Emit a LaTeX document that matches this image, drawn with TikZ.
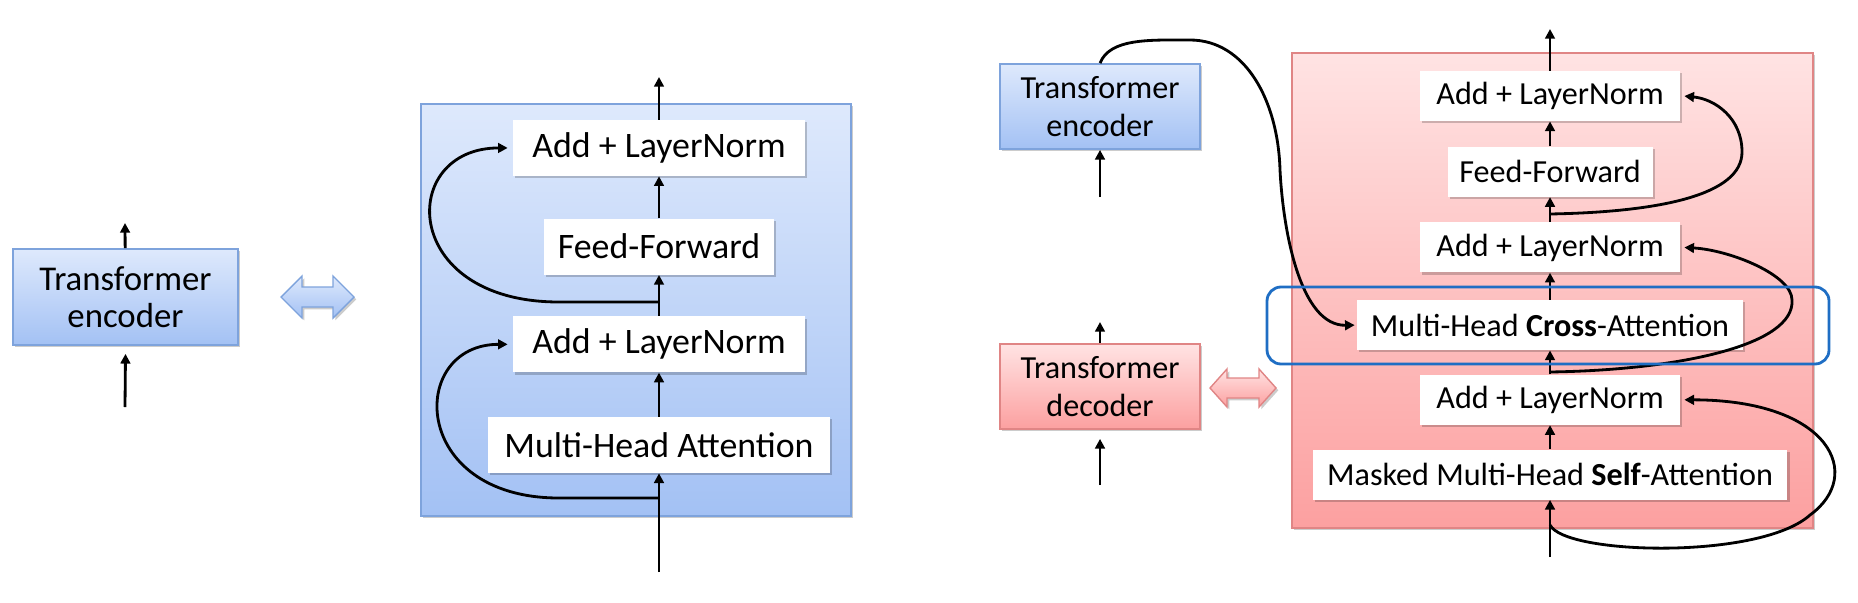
\documentclass[tikz,border=0pt]{standalone}
\usepackage{fontspec}
\setmainfont{Carlito}
\usetikzlibrary{positioning,arrows.meta,shadows}
\definecolor{encTop}{HTML}{DEE9FC}
\definecolor{encBottom}{HTML}{A3C1F4}
\definecolor{encLine}{HTML}{7EA3DC}
\definecolor{decTop}{HTML}{FFE3E3}
\definecolor{decBottom}{HTML}{FCA0A0}
\definecolor{decLine}{HTML}{E08585}
\definecolor{crossBlue}{HTML}{1F6EC4}
\tikzset{
    softshadow/.style={drop shadow={shadow xshift=1.3pt,shadow yshift=-1.3pt,opacity=0.2,fill=black}},
    encfill/.style={draw=encLine,top color=encTop,bottom color=encBottom,line width=1pt},
    decfill/.style={draw=decLine,top color=decTop,bottom color=decBottom,line width=1pt},
    bigblock/.style={inner sep=0pt,softshadow},
    smallblock/.style={align=center,inner sep=0pt,minimum width=4.0cm,minimum height=1.7cm,
        font=\fontsize{18.3}{22}\selectfont,softshadow},
    layer/.style={fill=white,inner sep=0pt,minimum height=1.12cm,
        font=\fontsize{20.4}{22}\selectfont,softshadow},
    sublayer/.style={fill=white,inner sep=0pt,minimum height=1.0cm,
        font=\fontsize{18.3}{20}\selectfont,softshadow},
    arrow/.style={-{Triangle[length=5.5pt,width=5.5pt]},line width=1.6pt},
    highlight/.style={draw=crossBlue,line width=1.6pt,rounded corners=0.28cm}
}
\begin{document}
\begin{tikzpicture}[x=0.02cm,y=-0.02cm]
    \useasboundingbox (0,0) rectangle (1858,602);
    % encoder as one block
    \node[smallblock,encfill,minimum width=4.5cm,minimum height=1.92cm,font=\fontsize{19.8}{20.8}\selectfont] (encleft) at (125.5,297) {Transformer\\encoder};
    \coordinate (encleftin) at (125,407);
    \coordinate (encleftout) at (125,223);
    \draw[arrow] (encleftin) -- ([yshift=-0.16cm]encleft.south);
    \draw[arrow] (encleft) -- (encleftout);
    \path[encfill,line width=0.8pt,softshadow] (281,297) -- (302,276) -- (302,287) -- (333,287) -- (333,276) -- (354,297)
        -- (333,318) -- (333,307) -- (302,307) -- (302,318) -- cycle;

    % encoder layer
    \node[bigblock,encfill,minimum width=8.6cm,minimum height=8.24cm] (encblock) at (636,310) {};
    \node[layer,minimum width=6.84cm] (mha) at (659,445) {Multi-Head Attention};
    \node[layer,minimum width=5.84cm,above=0.88cm of mha] (encnorm1) {Add + LayerNorm};
    \node[layer,minimum width=4.6cm,above=0.82cm of encnorm1] (encff) {Feed-Forward};
    \node[layer,minimum width=5.84cm,above=0.84cm of encff] (encnorm2) {Add + LayerNorm};
    \coordinate (encin) at (659,572);
    \coordinate (encout) at (659,77);
    \coordinate (encres1) at (659,498);
    \coordinate (encres2) at (659,302);
    \draw[arrow] (encin) -- (mha);
    \draw[arrow] (mha) -- (encnorm1);
    \draw[arrow] (encnorm1) -- (encff);
    \draw[arrow] (encff) -- (encnorm2);
    \draw[arrow] (encnorm2) -- (encout);
    \draw[arrow] (encres1) -- ++(-100,0) .. controls +(-150,0) and +(-100,0) .. ([xshift=-0.1cm]encnorm1.west);
    \draw[arrow] (encres2) -- ++(-100,0) .. controls +(-160,0) and +(-110,0) .. ([xshift=-0.1cm]encnorm2.west);

    % encoder and decoder blocks
    \node[smallblock,encfill] (encsmall) at (1100,106.5) {Transformer\\encoder};
    \node[smallblock,decfill] (decsmall) at (1100,386.5) {Transformer\\decoder};
    \coordinate (encsmallin) at (1100,197);
    \coordinate (decsmallin) at (1100,485);
    \coordinate (decsmallout) at (1100,322);
    \draw[arrow] (encsmallin) -- (encsmall);
    \draw[arrow] (decsmallin) -- ([yshift=-0.18cm]decsmall.south);
    \draw[arrow] (decsmall) -- (decsmallout);
    \path[decfill,line width=0.8pt,softshadow] (1210,388) -- (1227,369) -- (1227,378) -- (1259,378) -- (1259,369) -- (1276,388)
        -- (1259,407) -- (1259,398) -- (1227,398) -- (1227,407) -- cycle;

    % decoder layer
    \node[bigblock,decfill,minimum width=10.42cm,minimum height=9.5cm] (decblock) at (1552.5,290.5) {};
    \node[sublayer,minimum width=9.5cm] (selfatt) at (1550,474.5) {Masked Multi-Head \textbf{Self}-Attention};
    \node[sublayer,minimum width=5.2cm,above=0.48cm of selfatt] (decnorm1) {Add + LayerNorm};
    \node[sublayer,minimum width=7.72cm,above=0.48cm of decnorm1] (crossatt) {Multi-Head \textbf{Cross}-Attention};
    \node[sublayer,minimum width=5.2cm,above=0.54cm of crossatt] (decnorm2) {Add + LayerNorm};
    \node[sublayer,minimum width=4.1cm,above=0.5cm of decnorm2] (decff) {Feed-Forward};
    \node[sublayer,minimum width=5.2cm,above=0.5cm of decff] (decnorm3) {Add + LayerNorm};
    \coordinate (decin) at (1550,557);
    \coordinate (decout) at (1550,29);
    \coordinate (decres1) at (1550,525);
    \coordinate (decres2) at (1550,372);
    \coordinate (decres3) at (1550,214);
    \draw[arrow] (decin) -- (selfatt);
    \draw[arrow] (selfatt) -- (decnorm1);
    \draw[arrow] (decnorm1) -- (crossatt);
    \draw[arrow] (crossatt) -- (decnorm2);
    \draw[arrow] (decnorm2) -- (decff);
    \draw[arrow] (decff) -- (decnorm3);
    \draw[arrow] (decnorm3) -- (decout);
    \draw[arrow] (decres1) .. controls (1565,555) and (1760,560) .. (1810,515)
        .. controls (1865,475) and (1830,400) .. ([xshift=0.08cm]decnorm1.east);
    \draw[arrow] (decres2) .. controls (1680,370) and (1795,345) .. (1792,300)
        .. controls (1792,275) and (1730,250) .. ([xshift=0.08cm]decnorm2.east);
    \draw[arrow] (decres3) .. controls (1660,212) and (1742,195) .. (1742,152)
        .. controls (1742,118) and (1715,99) .. ([xshift=0.08cm]decnorm3.east);
    \draw[arrow] (encsmall.north) .. controls (1110,38) and (1150,40) .. (1190,40)
        .. controls (1245,40) and (1278,100) .. (1280,170)
        .. controls (1283,230) and (1300,326) .. ([xshift=-0.04cm]crossatt.west);
    \draw[highlight] (1267,287) rectangle (1829,364);
\end{tikzpicture}
\end{document}
